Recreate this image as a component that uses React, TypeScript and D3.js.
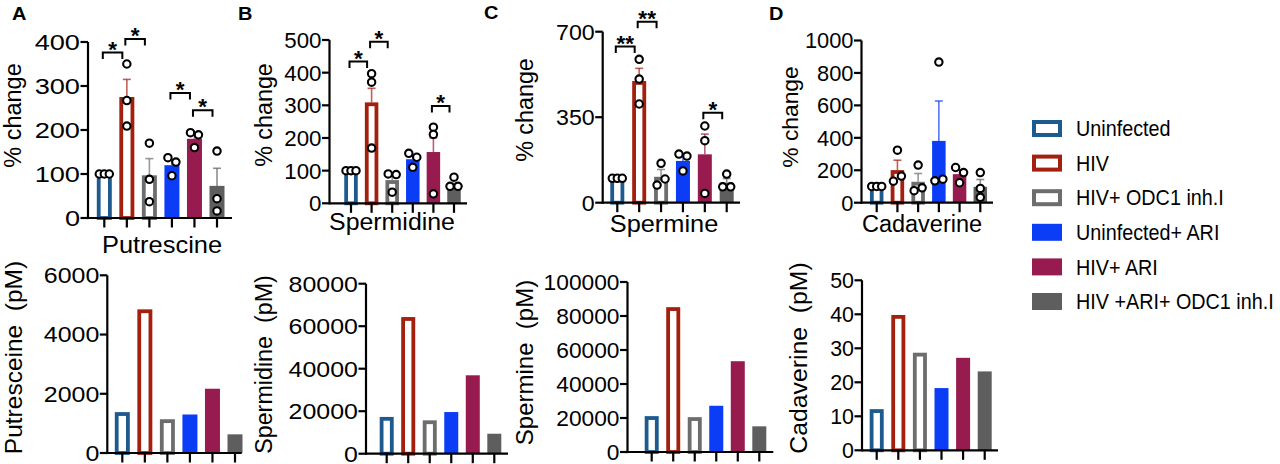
import React from "react";
import * as d3 from "d3";

const FONT = '"Liberation Sans", Arial, Helvetica, sans-serif';

// ---------- groups & legend ----------
const groups = [
  "Uninfected",
  "HIV",
  "HIV+ ODC1 inh.I",
  "Uninfected+ ARI",
  "HIV+ ARI",
  "HIV +ARI+ ODC1 inh.I",
];
const groupColors = ["#1d5a8e", "#a3200f", "#6d6d6d", "#0b3cf6", "#971b4f", "#5e5e5e"];
const groupOutlined = [true, true, true, false, false, false];

// ---------- % change panels (top row) ----------
const pctTitles = ["Putrescine", "Spermidine", "Spermine", "Cadaverine"];
const pctYLabel = "% change";

const putrescinePct = [100, 275, 97, 120, 180, 73];
const putrescineSem = [0, 40, 38, 12, 10, 40];
const putrescineDots = [
  [100, 100, 100],
  [350, 267, 209],
  [170, 88, 37],
  [137, 127, 96],
  [194, 189, 160],
  [152, 44, 16],
];
const putrescineTicks = [0, 100, 200, 300, 400];
const putrescineSig = [
  { from: 0, to: 1, level: 376, label: "*" },
  { from: 1, to: 2, level: 407, label: "*" },
  { from: 3, to: 4, level: 284, label: "*" },
  { from: 4, to: 5, level: 245, label: "*" },
];

const spermidinePct = [100, 309, 71, 135, 157, 52];
const spermidineSem = [0, 43, 14, 12, 43, 9];
const spermidineDots = [
  [100, 100, 100],
  [397, 371, 169],
  [90, 88, 34],
  [153, 141, 110],
  [233, 211, 29],
  [80, 52, 52],
];
const spermidineTicks = [0, 100, 200, 300, 400, 500];
const spermidineSig = [
  { from: 0, to: 1, level: 434, label: "*" },
  { from: 1, to: 2, level: 495, label: "*" },
  { from: 4, to: 5, level: 298, label: "*" },
];

const sperminePct = [100, 498, 106, 171, 198, 82];
const spermineSem = [0, 52, 30, 22, 83, 17];
const spermineDots = [
  [100, 100, 100],
  [587, 506, 404],
  [161, 72, 97],
  [199, 191, 130],
  [314, 254, 38],
  [117, 65, 65],
];
const spermineTicks = [0, 350, 700];
const spermineSig = [
  { from: 0, to: 1, level: 639, label: "**" },
  { from: 1, to: 2, level: 741, label: "**" },
  { from: 4, to: 5, level: 368, label: "*" },
];

const cadaverinePct = [100, 201, 129, 381, 176, 98];
const cadaverineSem = [0, 61, 51, 246, 27, 45];
const cadaverineDots = [
  [100, 100, 100],
  [324, 133, 164],
  [232, 74, 92],
  [867, 135, 145],
  [217, 186, 123],
  [186, 88, 33],
];
const cadaverineTicks = [0, 200, 400, 600, 800, 1000];
const cadaverineSig: { from: number; to: number; level: number; label: string }[] = [];

// ---------- concentration panels (bottom row) ----------
const pmLabels = ["Putresceine  (pM)", "Spermidine  (pM)", "Spermine  (pM)", "Cadaverine  (pM)"];
const putrescinePM = [1380, 4850, 1140, 1300, 2170, 630];
const putrescinePMTicks = [0, 2000, 4000, 6000];
const spermidinePM = [17300, 64300, 15700, 19600, 36900, 9400];
const spermidinePMTicks = [0, 20000, 40000, 60000, 80000];
const sperminePM = [21100, 85200, 20500, 27200, 53400, 15100];
const sperminePMTicks = [0, 20000, 40000, 60000, 80000, 100000];
const cadaverinePM = [12.1, 39.8, 28.7, 18.3, 27.2, 23.2];
const cadaverinePMTicks = [0, 10, 20, 30, 40, 50];

const panelLetters = ["A", "B", "C", "D"];

// ---------- layout (positions / styles) ----------
const topLayout = [
  { left: 88, right: 232, y0: 218, yTop: 42, c0: 104.3, c1: 217, barW: 15, tickS: 1.22, titleX: 162, titleY: 252.5, titleS: 1.06, titleSize: 24, ylabX: 21, ylabY: 115.5, ylabSize: 23.5, letterX: 12, letterY: 20 },
  { left: 329.5, right: 467, y0: 203.3, yTop: 40, c0: 351, c1: 454, barW: 13.5, tickS: 1.0, titleX: 392, titleY: 229.8, titleS: 1.06, titleSize: 23.5, ylabX: 272, ylabY: 115, ylabSize: 23.3, letterX: 238, letterY: 20 },
  { left: 602.7, right: 740, y0: 202.7, yTop: 31.7, c0: 617.3, c1: 726.7, barW: 14, tickS: 1.04, titleX: 664, titleY: 231.5, titleS: 1.08, titleSize: 23.5, ylabX: 533, ylabY: 110, ylabSize: 23.3, letterX: 484, letterY: 18.5 },
  { left: 861.5, right: 993, y0: 202.7, yTop: 40.5, c0: 876.7, c1: 980.3, barW: 13.5, tickS: 0.98, titleX: 922, titleY: 231.5, titleS: 1.0, titleSize: 23.5, ylabX: 798, ylabY: 117, ylabSize: 22.8, letterX: 769, letterY: 20 },
];
const bottomLayout = [
  { left: 107.3, right: 241.7, y0: 453, yTop: 275.3, c0: 122.3, c1: 235, barW: 15, tickS: 1.12, ylabX: 21.5, ylabY: 357.5, ylabSize: 24.5 },
  { left: 366, right: 508, y0: 453.7, yTop: 283.7, c0: 386.7, c1: 494.3, barW: 14, tickS: 1.12, ylabX: 272, ylabY: 364.5, ylabSize: 23.3 },
  { left: 627.5, right: 773.3, y0: 452, yTop: 282, c0: 651.7, c1: 759.3, barW: 14, tickS: 1.02, ylabX: 533, ylabY: 362.5, ylabSize: 24 },
  { left: 862, right: 998, y0: 450.3, yTop: 280.3, c0: 876.7, c1: 984.7, barW: 14, tickS: 0.96, ylabX: 807, ylabY: 358, ylabSize: 24.8 },
];

const TICK_FONT = 22.3;
const AXIS_W = 2.2;
const OUTLINE_W = 3.8;

type Sig = { from: number; to: number; level: number; label: string };

function Txt(props: {
  x: number; y: number; s?: number; rotate?: number; anchor?: string; size: number;
  weight?: string | number; dy?: string; fill?: string; children: React.ReactNode;
}) {
  const { x, y, s = 1, rotate, anchor = "start", size, weight = "normal", dy, fill = "#000", children } = props;
  const tf = `translate(${x},${y})${rotate ? ` rotate(${rotate})` : ""}${s !== 1 ? ` scale(${s},1)` : ""}`;
  return (
    <text transform={tf} textAnchor={anchor} fontSize={size} fontWeight={weight} dy={dy} fill={fill} fontFamily={FONT} style={{ whiteSpace: "pre" }}>
      {children}
    </text>
  );
}

function Axes({ L, y, x, ticks, tickS, fmt }: any) {
  return (
    <g>
      <line x1={L.left} x2={L.left} y1={L.y0 + AXIS_W / 2} y2={y(ticks[ticks.length - 1])} stroke="#000" strokeWidth={AXIS_W} />
      <line x1={L.left} x2={L.right} y1={L.y0} y2={L.y0} stroke="#000" strokeWidth={AXIS_W} />
      {ticks.map((t: number) => (
        <g key={t}>
          <line x1={L.left - 7.5} x2={L.left} y1={y(t)} y2={y(t)} stroke="#000" strokeWidth={AXIS_W} />
          <Txt x={L.left - 8} y={y(t)} s={tickS} anchor="end" size={TICK_FONT} dy="0.355em">
            {fmt(t)}
          </Txt>
        </g>
      ))}
      {groups.map((g) => (
        <line key={g} x1={x(g)} x2={x(g)} y1={L.y0} y2={L.y0 + 9.5} stroke="#000" strokeWidth={AXIS_W} />
      ))}
    </g>
  );
}

function Bar({ cx, w, yv, y0, i }: { cx: number; w: number; yv: number; y0: number; i: number }) {
  const c = groupColors[i];
  if (groupOutlined[i]) {
    return (
      <rect x={cx - w / 2 + OUTLINE_W / 2} y={yv + OUTLINE_W / 2} width={w - OUTLINE_W}
        height={Math.max(0, y0 - yv - OUTLINE_W / 2)} fill="#fff" stroke={c} strokeWidth={OUTLINE_W} />
    );
  }
  return <rect x={cx - w / 2} y={yv} width={w} height={y0 - yv} fill={c} />;
}

function dotOffsets(vals: number[], y: (v: number) => number): number[] {
  // group dots that would collide vertically; spread them horizontally
  const idx = vals.map((v, i) => i).sort((a, b) => y(vals[a]) - y(vals[b]));
  const clusters: number[][] = [];
  idx.forEach((i) => {
    const last = clusters[clusters.length - 1];
    if (last && Math.abs(y(vals[i]) - y(vals[last[last.length - 1]])) < 6.5) last.push(i);
    else clusters.push([i]);
  });
  const off = vals.map(() => 0);
  clusters.forEach((cl) => {
    const k = cl.length;
    if (k < 2) return;
    const sp = Math.min(8, 10 / (k - 1));
    const ordered = [...cl].sort((a, b) => a - b);
    ordered.forEach((i, j) => (off[i] = (j - (k - 1) / 2) * sp));
  });
  return off;
}

function PctPanel({ p, means, sem, dots, ticks, sig }: { p: number; means: number[]; sem: number[]; dots: number[][]; ticks: number[]; sig: Sig[] }) {
  const L = topLayout[p];
  const y = d3.scaleLinear().domain([0, ticks[ticks.length - 1]]).range([L.y0, L.yTop]);
  const x = d3.scalePoint<string>().domain(groups).range([L.c0, L.c1]);
  return (
    <g>
      <Txt x={L.letterX} y={L.letterY} size={18.5} weight="bold" s={1.08}>{panelLetters[p]}</Txt>
      {means.map((m, i) => (
        <Bar key={i} cx={x(groups[i])!} w={L.barW} yv={y(m)} y0={L.y0} i={i} />
      ))}
      {means.map((m, i) =>
        sem[i] > 0 ? (
          <g key={"e" + i} stroke={groupColors[i]} strokeOpacity={0.7} strokeWidth={1.6}>
            <line x1={x(groups[i])} x2={x(groups[i])} y1={y(m)} y2={y(m + sem[i])} />
            <line x1={x(groups[i])! - 4} x2={x(groups[i])! + 4} y1={y(m + sem[i])} y2={y(m + sem[i])} />
          </g>
        ) : null
      )}
      <Axes L={L} y={y} x={x} ticks={ticks} tickS={L.tickS} fmt={(t: number) => String(t)} />
      {dots.map((vals, i) => {
        const off = dotOffsets(vals, y);
        return vals.map((v, j) => (
          <circle key={i + "-" + j} cx={x(groups[i])! + off[j]} cy={y(v)} r={3.7} fill="#fff" stroke="#000" strokeWidth={2.1} />
        ));
      })}
      {sig.map((s, k) => {
        const xl = x(groups[s.from])! - 1.5;
        const xr = x(groups[s.to])! - 4.5;
        const yl = y(s.level);
        return (
          <g key={"s" + k}>
            <path d={`M${xl},${yl + 6.5}V${yl}H${xr}V${yl + 6.5}`} fill="none" stroke="#000" strokeWidth={2} />
            <Txt x={(xl + xr) / 2} y={yl + 4} anchor="middle" size={22.5} weight="bold">{s.label}</Txt>
          </g>
        );
      })}
      <Txt x={L.titleX} y={L.titleY} s={L.titleS} anchor="middle" size={L.titleSize}>{pctTitles[p]}</Txt>
      <Txt x={L.ylabX} y={L.ylabY} rotate={-90} anchor="middle" size={L.ylabSize}>{pctYLabel}</Txt>
    </g>
  );
}

function PmPanel({ p, vals, ticks }: { p: number; vals: number[]; ticks: number[] }) {
  const L = bottomLayout[p];
  const y = d3.scaleLinear().domain([0, ticks[ticks.length - 1]]).range([L.y0, L.yTop]);
  const x = d3.scalePoint<string>().domain(groups).range([L.c0, L.c1]);
  return (
    <g>
      {vals.map((v, i) => (
        <Bar key={i} cx={x(groups[i])!} w={L.barW} yv={y(v)} y0={L.y0} i={i} />
      ))}
      <Axes L={L} y={y} x={x} ticks={ticks} tickS={L.tickS} fmt={(t: number) => String(t)} />
      <Txt x={L.ylabX} y={L.ylabY} rotate={-90} anchor="middle" size={L.ylabSize}>
        {pmLabels[p]}
      </Txt>
    </g>
  );
}

function Legend() {
  const x0 = 1032, w = 30, h = 17, top = 128.5, step = 34.6;
  return (
    <g>
      {groups.map((g, i) => {
        const cy = top + i * step;
        return (
          <g key={g}>
            {groupOutlined[i] ? (
              <rect x={x0 + 2} y={cy - h / 2 + 2} width={w - 4} height={h - 4} fill="#fff" stroke={groupColors[i]} strokeWidth={4} />
            ) : (
              <rect x={x0} y={cy - h / 2} width={w} height={h} fill={groupColors[i]} />
            )}
            <Txt x={1076} y={cy} size={21.5} s={0.92} dy="0.36em">{g}</Txt>
          </g>
        );
      })}
    </g>
  );
}

export default function App() {
  return (
    <svg width={1280} height={464} viewBox="0 0 1280 464" style={{ position: "absolute", left: 0, top: 0, background: "#fff" }}>
      <rect x={0} y={0} width={1280} height={464} fill="#fff" />
      <PctPanel p={0} means={putrescinePct} sem={putrescineSem} dots={putrescineDots} ticks={putrescineTicks} sig={putrescineSig} />
      <PctPanel p={1} means={spermidinePct} sem={spermidineSem} dots={spermidineDots} ticks={spermidineTicks} sig={spermidineSig} />
      <PctPanel p={2} means={sperminePct} sem={spermineSem} dots={spermineDots} ticks={spermineTicks} sig={spermineSig} />
      <PctPanel p={3} means={cadaverinePct} sem={cadaverineSem} dots={cadaverineDots} ticks={cadaverineTicks} sig={cadaverineSig} />
      <PmPanel p={0} vals={putrescinePM} ticks={putrescinePMTicks} />
      <PmPanel p={1} vals={spermidinePM} ticks={spermidinePMTicks} />
      <PmPanel p={2} vals={sperminePM} ticks={sperminePMTicks} />
      <PmPanel p={3} vals={cadaverinePM} ticks={cadaverinePMTicks} />
      <Legend />
    </svg>
  );
}
